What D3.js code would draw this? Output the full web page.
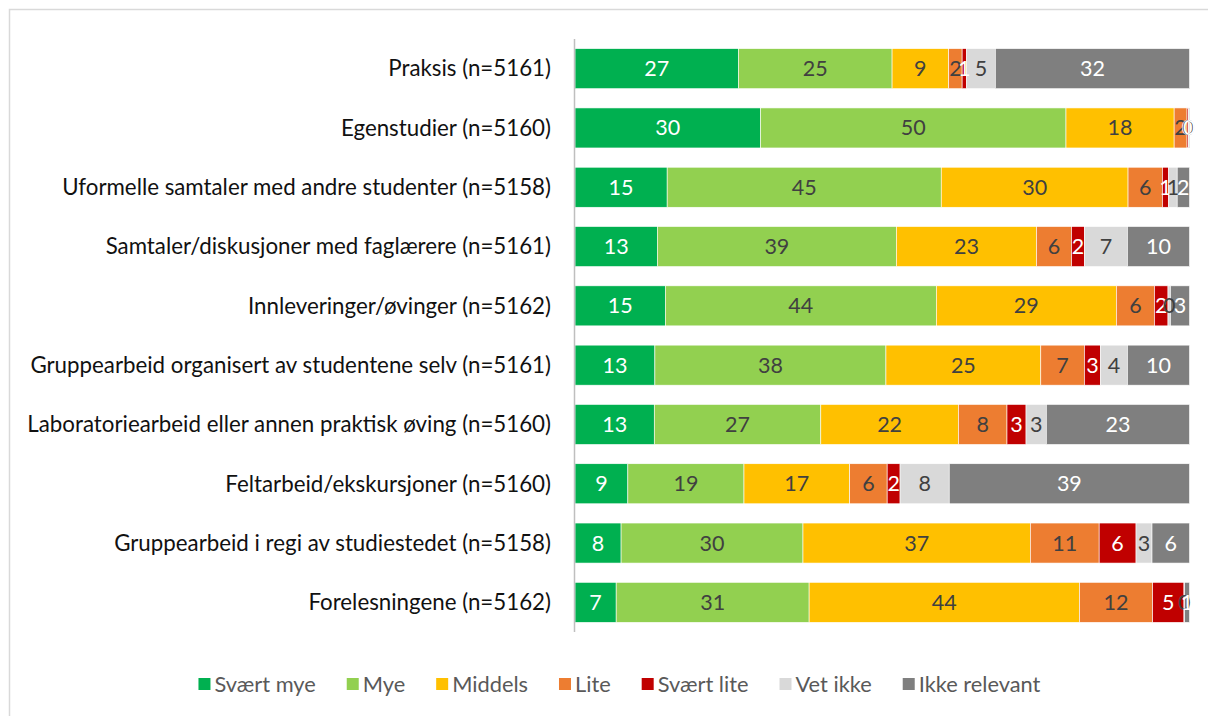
<!DOCTYPE html>
<html lang="no">
<head>
<meta charset="UTF-8">
<title>Læringsaktiviteter</title>
<script src="https://cdn.jsdelivr.net/npm/d3@7"></script>
<style>
  body { margin: 0; background: #fff; }
  svg { display: block; font-family: Lato, "Liberation Sans", sans-serif; }
</style>
</head>
<body>
<svg width="1208" height="716"></svg>
<script>
// kategorier (y-akse)
var categories = [
  "Praksis (n=5161)",
  "Egenstudier (n=5160)",
  "Uformelle samtaler med andre studenter (n=5158)",
  "Samtaler/diskusjoner med faglærere (n=5161)",
  "Innleveringer/øvinger (n=5162)",
  "Gruppearbeid organisert av studentene selv (n=5161)",
  "Laboratoriearbeid eller annen praktisk øving (n=5160)",
  "Feltarbeid/ekskursjoner (n=5160)",
  "Gruppearbeid i regi av studiestedet (n=5158)",
  "Forelesningene (n=5162)"
];

// svarkategorier
var seriesNames = ["Svært mye", "Mye", "Middels", "Lite", "Svært lite", "Vet ikke", "Ikke relevant"];

// prosent per serie, i samme rekkefølge som categories
var svaertMye    = [26.6, 30.2, 15.0, 13.4, 14.7, 13.0, 12.9,  8.6,  7.5,  6.7];
var mye          = [25.0, 49.7, 44.6, 38.9, 44.1, 37.6, 27.1, 18.9, 29.6, 31.4];
var middels      = [ 9.2, 17.6, 30.4, 22.8, 29.3, 25.2, 22.4, 17.2, 37.0, 44.0];
var lite         = [ 2.2,  2.1,  5.6,  5.7,  6.2,  7.1,  7.9,  6.1, 11.2, 11.9];
var svaertLite   = [ 0.7,  0.2,  1.0,  2.1,  2.2,  2.6,  3.1,  2.1,  6.0,  5.1];
var vetIkke      = [ 4.7,  0.1,  1.4,  7.0,  0.4,  4.4,  3.3,  8.0,  2.6,  0.1];
var ikkeRelevant = [31.6,  0.1,  2.0, 10.1,  3.1, 10.1, 23.3, 39.1,  6.1,  0.8];

var seriesValues = [svaertMye, mye, middels, lite, svaertLite, vetIkke, ikkeRelevant];

var colors = ["#00b050", "#92d050", "#ffc000", "#ed7d31", "#c00000", "#d9d9d9", "#7f7f7f"];
var labelColors = ["#ffffff", "#404040", "#404040", "#404040", "#ffffff", "#404040", "#ffffff"];

// tabell for d3.stack
var rows = categories.map(function (c, i) {
  var r = { name: c };
  seriesNames.forEach(function (s, j) { r[s] = seriesValues[j][i]; });
  return r;
});

var stacked = d3.stack()
  .keys(seriesNames)
  .offset(d3.stackOffsetExpand)(rows);

var svg = d3.select("svg");

// ramme (kun topp og venstre er synlig)
svg.append("path")
  .attr("d", "M9.5,716V9.5H1208")
  .attr("fill", "none")
  .attr("stroke", "#d9d9d9")
  .attr("stroke-width", 1.5);

var x = d3.scaleLinear().domain([0, 1]).range([575, 1189.5]);
var y = d3.scaleBand().domain(categories).range([39, 632]).paddingInner(0.325).paddingOuter(0.1625);

var fs = 21.5;

// kategori-tekster
svg.append("g")
  .selectAll("text")
  .data(categories)
  .enter().append("text")
  .attr("x", 551)
  .attr("y", function (d) { return y(d) + y.bandwidth() / 2; })
  .attr("dy", "0.35em")
  .attr("text-anchor", "end")
  .attr("font-size", 22.3)
  .attr("fill", "#111")
  .text(function (d) { return d; });

// søyler
var layers = svg.append("g")
  .selectAll("g")
  .data(stacked)
  .enter().append("g")
  .attr("fill", function (d, i) { return colors[i]; });

layers.selectAll("rect")
  .data(function (d) { return d; })
  .enter().append("rect")
  .attr("x", function (d) { return x(d[0]); })
  .attr("y", function (d) { return y(d.data.name); })
  .attr("width", function (d) { return Math.max(0, x(d[1]) - x(d[0])); })
  .attr("height", y.bandwidth())
  .attr("stroke", "#ffffff")
  .attr("stroke-width", 0.6);

// verdietiketter
svg.append("g")
  .selectAll("g")
  .data(stacked)
  .enter().append("g")
  .attr("fill", function (d, i) { return labelColors[i]; })
  .selectAll("text")
  .data(function (d) { return d.map(function (p) { p.key = d.key; return p; }); })
  .enter().append("text")
  .attr("x", function (d) { return (x(d[0]) + x(d[1])) / 2; })
  .attr("y", function (d) { return y(d.data.name) + y.bandwidth() / 2; })
  .attr("dy", "0.35em")
  .attr("text-anchor", "middle")
  .attr("font-size", fs)
  .text(function (d) { return Math.round(d.data[d.key]); });

// y-akse linje
svg.append("line")
  .attr("x1", 574.5).attr("x2", 574.5)
  .attr("y1", 39).attr("y2", 632)
  .attr("stroke", "#bfbfbf")
  .attr("stroke-width", 1.5);

// legende
var legend = svg.append("g").attr("class", "legend");
var items = legend.selectAll("g")
  .data(seriesNames)
  .enter().append("g");

items.append("rect")
  .attr("width", 12).attr("height", 12)
  .attr("y", -6)
  .attr("fill", function (d, i) { return colors[i]; });

items.append("text")
  .attr("x", 16)
  .attr("dy", "0.35em")
  .attr("font-size", 21.8)
  .attr("fill", "#595959")
  .text(function (d) { return d; });

var offset = 0;
items.each(function () {
  var w = this.getBBox().width;
  d3.select(this).attr("transform", "translate(" + offset + ",0)");
  offset += w + 31;
});
var total = offset - 31;
legend.attr("transform", "translate(" + (619.5 - total / 2) + ",684)");
</script>
</body>
</html>
